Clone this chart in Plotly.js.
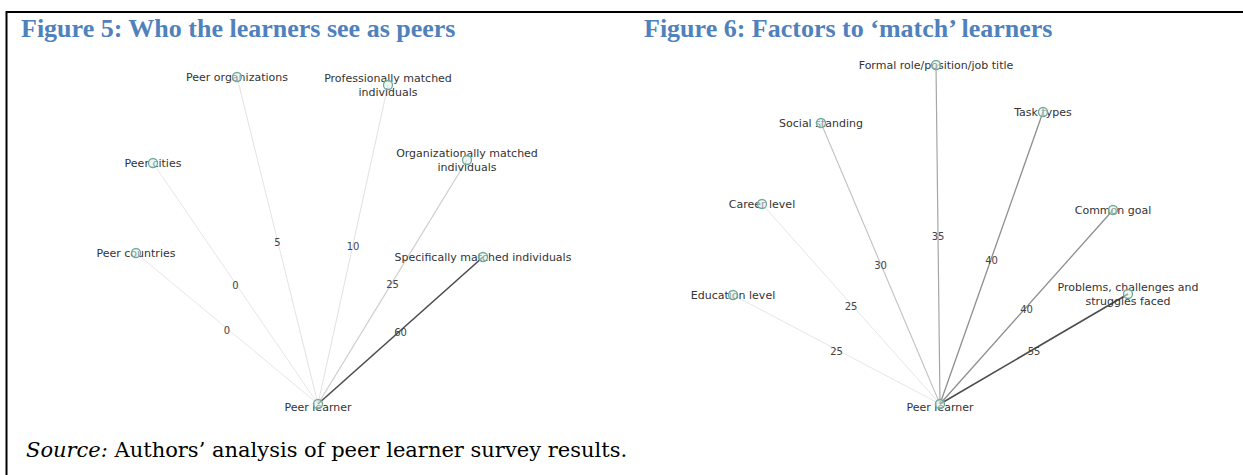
<!DOCTYPE html>
<html>
<head>
<meta charset="utf-8">
<script src="https://cdn.plot.ly/plotly-3.0.1.min.js"></script>
<style>
  html, body { margin: 0; padding: 0; background: #ffffff; }
  #chart { width: 1243px; height: 475px; }
</style>
</head>
<body>
<div id="chart"></div>
<script>
// ---------- Figure 5: who the learners see as peers ----------
const peerHub = 'Peer learner';
const peerNodes = ['Peer countries', 'Peer cities', 'Peer organizations',
  'Professionally matched<br>individuals', 'Organizationally matched<br>individuals',
  'Specifically matched individuals'];
const peerWeights = [0, 0, 5, 10, 25, 60];
// network layout coordinates (hub at 0,0)
const peerNodeX = [-182, -165, -81, 70, 149, 165];
const peerNodeY = [151, 241, 327, 319, 244, 147];

// ---------- Figure 6: factors to 'match' learners ----------
const matchHub = 'Peer learner';
const matchNodes = ['Education level', 'Career level', 'Social standing',
  'Formal role/position/job title', 'Task types', 'Common goal',
  'Problems, challenges and<br>struggles faced'];
const matchWeights = [25, 25, 30, 35, 40, 40, 55];
const matchNodeX = [-207, -178, -119, -4, 103, 173, 188];
const matchNodeY = [109, 200, 281, 339, 292, 194, 110];

const figTitles = ['Figure 5: Who the learners see as peers',
  'Figure 6: Factors to \u2018match\u2019 learners'];
const sourceNote = '<i>Source:</i> Authors\u2019 analysis of peer learner survey results.';

const LABEL_FONT = 'DejaVu Sans, Verdana, sans-serif';

function edgeColor(w, ws, gamma) {
  const lo = Math.min(...ws), hi = Math.max(...ws);
  const t = hi > lo ? (w - lo) / (hi - lo) : 0;
  const l = 0.30 + (0.90 - 0.30) * (1 - Math.pow(t, gamma));
  const v = Math.round(l * 255);
  return 'rgb(' + v + ',' + v + ',' + v + ')';
}

function buildNetwork(hub, names, weights, nx, ny, xa, ya, gamma) {
  const tr = [];
  const xaxis = xa, yaxis = ya;
  const lo = Math.min(...weights), hi = Math.max(...weights);
  names.forEach((n, i) => {
    const t = hi > lo ? (weights[i] - lo) / (hi - lo) : 0;
    tr.push({
      type: 'scatter', mode: 'lines', x: [0, nx[i]], y: [0, ny[i]],
      xaxis, yaxis, hoverinfo: 'skip', showlegend: false,
      line: { color: edgeColor(weights[i], weights, gamma), width: 1 + 0.6 * t }
    });
  });
  // edge weight labels at the middle of each edge
  tr.push({
    type: 'scatter', mode: 'text', xaxis, yaxis, showlegend: false, hoverinfo: 'skip',
    x: nx.map(v => v / 2), y: ny.map(v => v / 2 - 3),
    text: weights.map(String), textposition: 'middle center',
    textfont: { family: LABEL_FONT, size: 10, color: '#444444' }
  });
  // node labels
  tr.push({
    type: 'scatter', mode: 'text', xaxis, yaxis, showlegend: false, hoverinfo: 'skip',
    x: [0].concat(nx), y: [-4].concat(ny.map(v => v - 1)),
    text: [hub].concat(names), textposition: 'middle center',
    textfont: { family: LABEL_FONT, size: 11, color: '#333333' }
  });
  // nodes
  tr.push({
    type: 'scatter', mode: 'markers', xaxis, yaxis, showlegend: false, hoverinfo: 'skip',
    x: [0].concat(nx), y: [0].concat(ny),
    marker: { symbol: 'circle', size: 9, color: 'rgba(225,240,236,0.55)',
      line: { color: '#6faa9b', width: 1.3 } }
  });
  return tr;
}

const data = []
  .concat(buildNetwork(peerHub, peerNodes, peerWeights, peerNodeX, peerNodeY, 'x', 'y', 2.2))
  .concat(buildNetwork(matchHub, matchNodes, matchWeights, matchNodeX, matchNodeY, 'x2', 'y2', 0.8));

const W = 1243, H = 475;
const hidden = { visible: false, fixedrange: true, showgrid: false, zeroline: false };

const layout = {
  width: W, height: H,
  margin: { l: 0, r: 0, t: 0, b: 0 },
  paper_bgcolor: '#ffffff', plot_bgcolor: 'rgba(0,0,0,0)',
  showlegend: false,
  xaxis: Object.assign({ domain: [0, 0.5], range: [-318, 303.5] }, hidden),
  yaxis: Object.assign({ domain: [0, 1], range: [-71, 404] }, hidden),
  xaxis2: Object.assign({ domain: [0.5, 1], range: [-318.5, 303], anchor: 'y2' }, hidden),
  yaxis2: Object.assign({ domain: [0, 1], range: [-71, 404], anchor: 'x2' }, hidden),
  shapes: [
    { type: 'line', xref: 'paper', yref: 'paper', x0: 6 / W, x1: 1, y0: 1 - 12 / H, y1: 1 - 12 / H,
      line: { color: '#000000', width: 2 } },
    { type: 'line', xref: 'paper', yref: 'paper', x0: 6.5 / W, x1: 6.5 / W, y0: 0, y1: 1 - 11 / H,
      line: { color: '#000000', width: 2 } }
  ],
  annotations: [
    { xref: 'paper', yref: 'paper', x: 19 / W, y: 1 - 28 / H, xanchor: 'left', yanchor: 'middle',
      text: '<b>' + figTitles[0] + '</b>', showarrow: false,
      font: { family: 'Liberation Serif, Times New Roman, serif', size: 26, color: '#4F81BD' } },
    { xref: 'paper', yref: 'paper', x: 642 / W, y: 1 - 28 / H, xanchor: 'left', yanchor: 'middle',
      text: '<b>' + figTitles[1] + '</b>', showarrow: false,
      font: { family: 'Liberation Serif, Times New Roman, serif', size: 26, color: '#4F81BD' } },
    { xref: 'paper', yref: 'paper', x: 24 / W, y: 1 - 450 / H, xanchor: 'left', yanchor: 'middle',
      text: sourceNote, showarrow: false,
      font: { family: 'DejaVu Serif, Liberation Serif, serif', size: 21, color: '#000000' } }
  ]
};

Plotly.newPlot('chart', data, layout, { displayModeBar: false, staticPlot: true });
</script>
</body>
</html>
